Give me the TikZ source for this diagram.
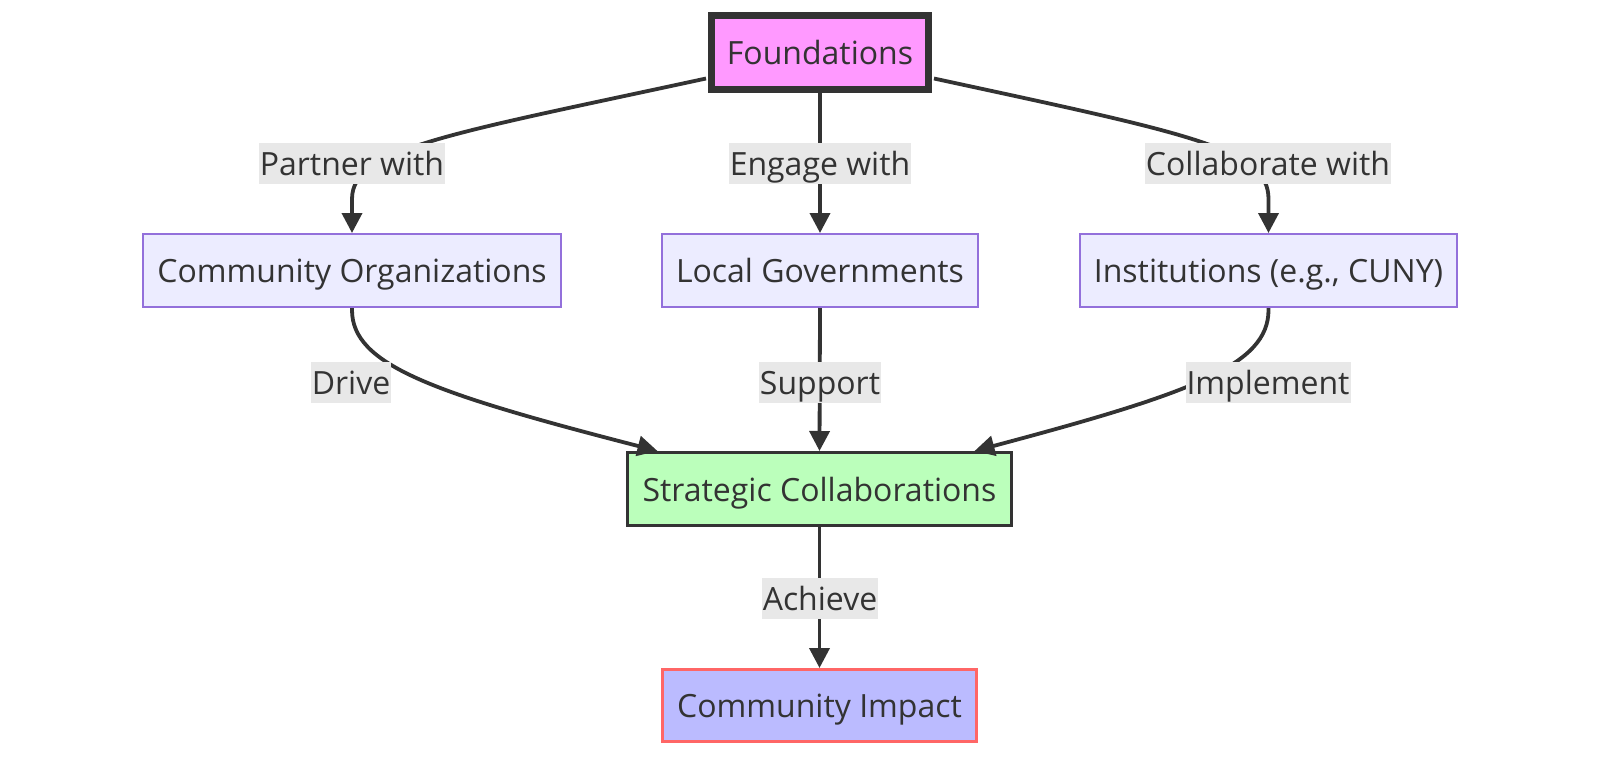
\documentclass[tikz,border=0pt]{standalone}
\usepackage{fontspec}
\setmainfont{Open Sans}
\usetikzlibrary{arrows.meta,calc}
\definecolor{ink}{HTML}{333333}
\definecolor{pinkfill}{HTML}{FF99FF}
\definecolor{lavfill}{HTML}{ECECFF}
\definecolor{lavline}{HTML}{9370DB}
\definecolor{greenfill}{HTML}{BBFFBB}
\definecolor{bluefill}{HTML}{BBBBFF}
\definecolor{redline}{HTML}{FF6666}
\definecolor{lblbg}{HTML}{E8E8E8}
\tikzset{
  txt/.style={text=ink, font=\fontsize{32}{38}\selectfont, text height=24pt, text depth=0pt},
  base/.style={rectangle, inner sep=0pt, txt, anchor=center},
  plain/.style={base, fill=lavfill, draw=lavline, line width=2pt, minimum height=73pt},
  found/.style={base, fill=pinkfill, draw=ink, line width=7pt, minimum width=217pt, minimum height=74pt},
  strat/.style={base, fill=greenfill, draw=ink, line width=3pt, minimum width=384pt, minimum height=73pt},
  impact/.style={base, fill=bluefill, draw=redline, line width=3pt, minimum width=314pt, minimum height=72pt},
  elabel/.style={rectangle, fill=lblbg, txt, inner xsep=1pt, inner ysep=0pt, minimum height=41pt},
  edge/.style={draw=ink, line width=3.8pt, -{Triangle[length=20pt,width=20pt]}},
}
\begin{document}
\begin{tikzpicture}[x=1pt,y=-1pt]
\useasboundingbox (0,0) rectangle (1600,760);
\node[found] (F) at (820,52.5) {Foundations};
\node[plain, minimum width=418pt] (CO) at (352,270.5) {Community Organizations};
\node[plain, minimum width=316pt] (LG) at (820,270.5) {Local Governments};
\node[plain, minimum width=377pt] (IN) at (1268.5,270.5) {Institutions (e.g., CUNY)};
\node[strat] (SC) at (819.5,489) {Strategic Collaborations};
\node[impact] (CI) at (819.5,705.5) {Community Impact};

\draw[edge] ($(F.west)+(-2,26)$) .. controls +(-259,56) and +(0,-50) .. ($(CO.north)+(0,-34)$) -- (CO.north);
\draw[edge] (F.south) -- (LG.north);
\draw[edge] ($(F.east)+(2,26)$) .. controls +(259,56) and +(0,-50) .. ($(IN.north)+(0,-34)$) -- (IN.north);
\draw[edge] (CO.south) -- ++(0,2) .. controls +(0,55) and +(-225,-58) .. ($(SC.north)+(-162,0)$);
\draw[edge] (LG.south) -- (SC.north);
\draw[edge] (IN.south) -- ++(0,2) .. controls +(0,55) and +(218,-58) .. ($(SC.north)+(155,0)$);
\draw[edge] (SC.south) -- (CI.north);

\node[elabel] (l1) at (352,163.5) {Partner with};
\node[elabel] (l2) at (820,163.5) {Engage with};
\node[elabel] (l3) at (1268,163.5) {Collaborate with};
\node[elabel] (l4) at (351,382) {Drive};
\node[elabel] (l5) at (820,382) {Support};
\node[elabel] (l6) at (1268,382) {Implement};
\node[elabel] (l7) at (820,598) {Achieve};
\end{tikzpicture}
\end{document}
